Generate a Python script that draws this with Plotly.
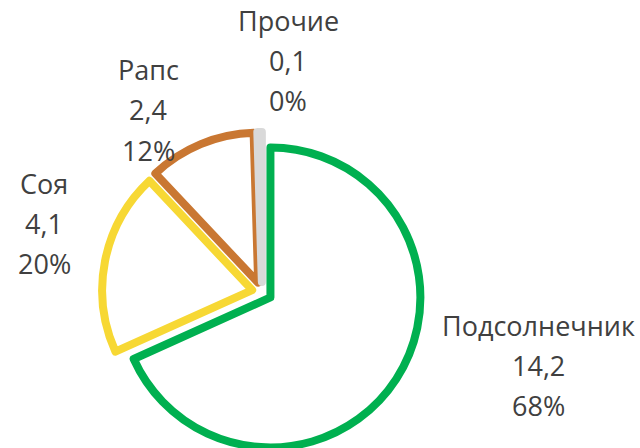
import plotly.graph_objects as go

labels = ["Подсолнечник", "Соя", "Рапс", "Прочие"]
values = [14.2, 4.1, 2.4, 0.1]
line_colors = ["#00B050", "#F7D834", "#C97732", "#D9D9D9"]

# label block centres (figure px) for the data labels
label_pos = [(538, 365), (44, 223), (148, 110), (288, 61)]

W, H = 640, 500
ML, MR, MT, MB = 102, 218, 132, H - 452
PW, PH = W - ML - MR, H - MT - MB

fig = go.Figure(go.Pie(
    labels=labels,
    values=values,
    sort=False,
    direction="clockwise",
    rotation=0,
    pull=0.067,
    marker=dict(colors=["#FFFFFF"] * len(values),
                line=dict(color=line_colors, width=8)),
    textinfo="none",
    showlegend=False,
    hoverinfo="skip",
))

total = sum(values)
spacing = 40
for lab, v, (px, py) in zip(labels, values, label_pos):
    lines = [lab, f"{v:.1f}".replace(".", ","), f"{round(v / total * 100):d}%"]
    for i, t in enumerate(lines):
        yy = py + (i - 1) * spacing
        fig.add_annotation(
            x=(px - ML) / PW, y=1 - (yy - MT) / PH, xref="paper", yref="paper",
            text=t, showarrow=False, xanchor="center", yanchor="middle",
            font=dict(family="Open Sans", size=27, color="#404040"),
        )

fig.update_layout(
    width=W, height=H,
    margin=dict(l=ML, r=MR, t=MT, b=MB),
    paper_bgcolor="white",
    plot_bgcolor="white",
)

fig.write_html("out.html", config={"displayModeBar": False},
               post_script="document.body.style.overflow='hidden';document.body.style.margin='0';")
